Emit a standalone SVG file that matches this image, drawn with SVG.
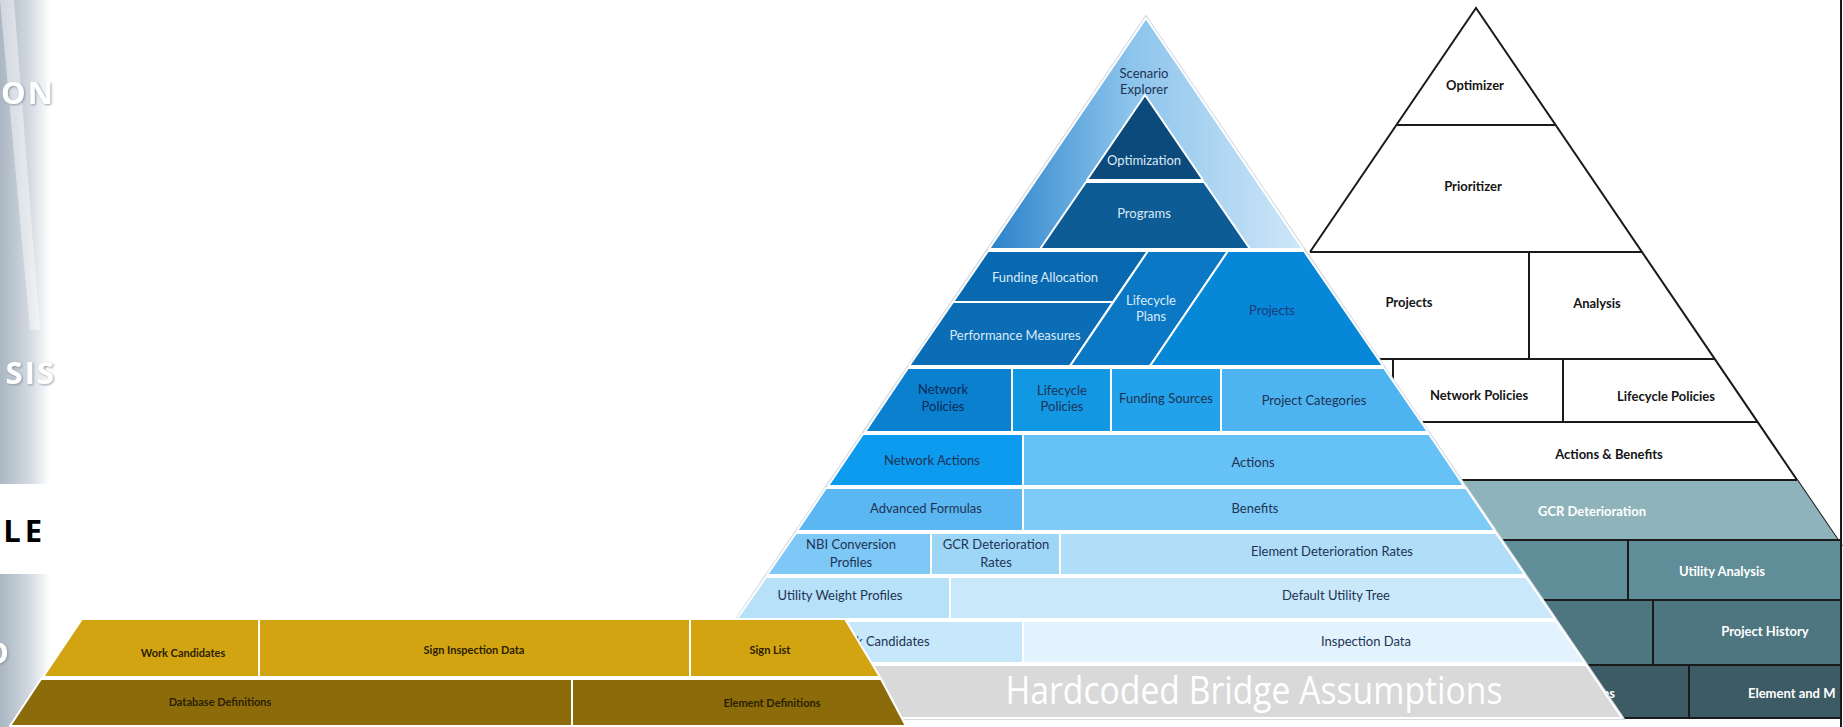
<svg xmlns="http://www.w3.org/2000/svg" width="1843" height="727" viewBox="0 0 1843 727">
<defs>
<linearGradient id="panel" x1="0" y1="0" x2="1" y2="0">
<stop offset="0" stop-color="#aab6c2"/>
<stop offset="0.6" stop-color="#d3dae1"/>
<stop offset="1" stop-color="#ffffff"/>
</linearGradient>
<linearGradient id="scen" x1="0" y1="0" x2="1" y2="0">
<stop offset="0" stop-color="#2a82ca"/>
<stop offset="0.45" stop-color="#8cc4ec"/>
<stop offset="1" stop-color="#cfe7f8"/>
</linearGradient>
<filter id="sh" x="-20%" y="-20%" width="140%" height="140%">
<feDropShadow dx="1" dy="1" stdDeviation="1.2" flood-color="#7d8894" flood-opacity="0.8"/>
</filter>
<style>
.bc{stroke:#ffffff;stroke-width:2;stroke-linejoin:round}
.t{font-family:Lato,"Liberation Sans",sans-serif;font-size:13px;text-anchor:middle}
.dk{fill:#1e3354}
.lt{fill:#dceaf7}
.wt{font-family:Lato,"Liberation Sans",sans-serif;font-size:13px;font-weight:bold;text-anchor:middle;fill:#151515}
.tt{font-family:Lato,"Liberation Sans",sans-serif;font-size:13px;font-weight:bold;text-anchor:middle;fill:#ffffff}
.gt{font-family:Lato,"Liberation Sans",sans-serif;font-size:11px;font-weight:bold;text-anchor:middle;fill:#2b2100}
.ln{stroke:#1a1a1a;stroke-width:2;fill:none}
.big{font-family:"Open Sans","DejaVu Sans",sans-serif;font-weight:bold;font-size:31px;text-anchor:end;letter-spacing:2px}
</style>
</defs>

<g id="left-panel">
<rect x="0" y="0" width="50" height="484" fill="url(#panel)"/>
<rect x="0" y="574" width="50" height="153" fill="url(#panel)"/>
<polygon points="0,0 14,0 40,330 30,330" fill="#ffffff" opacity="0.45"/>
<text class="big" x="55" y="104" fill="#ffffff" filter="url(#sh)">ON</text>
<text class="big" x="56" y="384" fill="#ffffff" filter="url(#sh)">SIS</text>
<text class="big" x="46" y="542" fill="#000000" style="letter-spacing:4px">LE</text>
<text class="big" x="11" y="664" fill="#ffffff" filter="url(#sh)">D</text>
</g>

<g id="right-pyramid">
<path class="ln" d="M1310,252 L1476,8 L1842,546" stroke-width="2.5"/>
<line class="ln" x1="1396" y1="125" x2="1556" y2="125"/>
<line class="ln" x1="1310" y1="252" x2="1642" y2="252"/>
<line class="ln" x1="1529" y1="252" x2="1529" y2="359"/>
<line class="ln" x1="1360" y1="359" x2="1715" y2="359"/>
<line class="ln" x1="1393" y1="359" x2="1393" y2="422"/>
<line class="ln" x1="1563" y1="359" x2="1563" y2="422"/>
<line class="ln" x1="1400" y1="422" x2="1757" y2="422"/>
<polygon points="1440,480 1797,480 1838,540 1440,540" fill="#8fb3bb"/>
<rect x="1470" y="540" width="372" height="60" fill="#5f8e98"/>
<rect x="1500" y="600" width="342" height="65" fill="#4d7680"/>
<rect x="1530" y="665" width="312" height="53" fill="#3d5b65"/>
<line class="ln" x1="1440" y1="480" x2="1797" y2="480"/>
<line class="ln" x1="1470" y1="540" x2="1842" y2="540"/>
<line class="ln" x1="1500" y1="600" x2="1842" y2="600"/>
<line class="ln" x1="1530" y1="665" x2="1842" y2="665"/>
<line class="ln" x1="1530" y1="718" x2="1842" y2="718"/>
<line class="ln" x1="1628" y1="540" x2="1628" y2="600"/>
<line class="ln" x1="1653" y1="600" x2="1653" y2="665"/>
<line class="ln" x1="1689" y1="665" x2="1689" y2="718"/>
<line class="ln" x1="1841" y1="0" x2="1841" y2="727"/>
<text class="wt" x="1475" y="90">Optimizer</text>
<text class="wt" x="1473" y="191">Prioritizer</text>
<text class="wt" x="1409" y="307">Projects</text>
<text class="wt" x="1597" y="308">Analysis</text>
<text class="wt" x="1479" y="400">Network Policies</text>
<text class="wt" x="1666" y="401">Lifecycle Policies</text>
<text class="wt" x="1609" y="459">Actions &amp; Benefits</text>
<text class="tt" x="1592" y="516">GCR Deterioration</text>
<text class="tt" x="1722" y="576">Utility Analysis</text>
<text class="tt" x="1765" y="636">Project History</text>
<text class="tt" x="1615" y="698" style="text-anchor:end">ns</text>
<text class="tt" x="1748" y="698" style="text-anchor:start">Element and M</text>
</g>

<g id="blue-pyramid">
<polygon points="1146,18 1622,718 670,718" fill="none" stroke="#d3dbe1" stroke-width="4"/>
<g id="scenario-explorer">
<polygon class="bc" points="1146,18 1303,249 989,249" fill="url(#scen)"/>
<text class="t dk" x="1144" y="78">Scenario</text>
<text class="t dk" x="1144" y="94">Explorer</text>
</g>
<g id="optimization">
<polygon class="bc" points="1145,95 1203,180 1087,180" fill="#0b4a7a"/>
<text class="t lt" x="1144" y="165">Optimization</text>
</g>
<g id="programs">
<polygon class="bc" points="1086,182 1204,182 1250,249 1040,249" fill="#0d5c96"/>
<text class="t lt" x="1144" y="218">Programs</text>
</g>
<g id="funding-allocation">
<polygon class="bc" points="988,251 1148,251 1113,302 953,302" fill="#0868b0"/>
<text class="t lt" x="1045" y="282">Funding Allocation</text>
</g>
<g id="performance-measures">
<polygon class="bc" points="953,302 1113,302 1070,366 909,366" fill="#0a6db6"/>
<text class="t lt" x="1015" y="340">Performance Measures</text>
</g>
<g id="lifecycle-plans">
<polygon class="bc" points="1148,251 1228,251 1150,366 1070,366" fill="#0a78c5"/>
<text class="t lt" x="1151" y="305">Lifecycle</text>
<text class="t lt" x="1151" y="321">Plans</text>
</g>
<g id="projects">
<polygon class="bc" points="1228,251 1304,251 1383,366 1150,366" fill="#0787d8"/>
<text class="t" x="1272" y="315" fill="#1a3c78">Projects</text>
</g>
<g id="network-policies">
<polygon class="bc" points="908,368 1012,368 1012,432 865,432" fill="#0a80cf"/>
<text class="t" x="943" y="394" fill="#0d2a55">Network</text>
<text class="t" x="943" y="411" fill="#0d2a55">Policies</text>
</g>
<g id="lifecycle-policies">
<rect class="bc" x="1012" y="368" width="99" height="64" fill="#1297e3"/>
<text class="t dk" x="1062" y="395">Lifecycle</text>
<text class="t dk" x="1062" y="411">Policies</text>
</g>
<g id="funding-sources">
<rect class="bc" x="1111" y="368" width="110" height="64" fill="#22a2ea"/>
<text class="t dk" x="1166" y="403">Funding Sources</text>
</g>
<g id="project-categories">
<polygon class="bc" points="1221,368 1384,368 1428,432 1221,432" fill="#4db4f1"/>
<text class="t dk" x="1314" y="405">Project Categories</text>
</g>
<g id="network-actions">
<polygon class="bc" points="863,434 1023,434 1023,486 828,486" fill="#0c9bef"/>
<text class="t dk" x="932" y="465">Network Actions</text>
</g>
<g id="actions">
<polygon class="bc" points="1023,434 1429,434 1464,486 1023,486" fill="#66c1f7"/>
<text class="t dk" x="1253" y="467">Actions</text>
</g>
<g id="advanced-formulas">
<polygon class="bc" points="826,488 1023,488 1023,531 797,531" fill="#5ab7f1"/>
<text class="t dk" x="926" y="513">Advanced Formulas</text>
</g>
<g id="benefits">
<polygon class="bc" points="1023,488 1466,488 1495,531 1023,531" fill="#7ecbf7"/>
<text class="t dk" x="1255" y="513">Benefits</text>
</g>
<g id="nbi-conversion-profiles">
<polygon class="bc" points="796,533 931,533 931,575 767,575" fill="#7dc8f6"/>
<text class="t dk" x="851" y="549">NBI Conversion</text>
<text class="t dk" x="851" y="567">Profiles</text>
</g>
<g id="gcr-deterioration-rates">
<rect class="bc" x="931" y="533" width="129" height="42" fill="#9ed6f8"/>
<text class="t dk" x="996" y="549">GCR Deterioration</text>
<text class="t dk" x="996" y="567">Rates</text>
</g>
<g id="element-deterioration-rates">
<polygon class="bc" points="1060,533 1496,533 1525,575 1060,575" fill="#b0def8"/>
<text class="t dk" x="1332" y="556">Element Deterioration Rates</text>
</g>
<g id="utility-weight-profiles">
<polygon class="bc" points="766,577 950,577 950,619 737,619" fill="#b7e0f9"/>
<text class="t dk" x="840" y="600">Utility Weight Profiles</text>
</g>
<g id="default-utility-tree">
<polygon class="bc" points="950,577 1526,577 1555,619 950,619" fill="#c9e9fb"/>
<text class="t dk" x="1336" y="600">Default Utility Tree</text>
</g>
<g id="work-candidates-blue">
<polygon class="bc" points="736,621 1023,621 1023,663 707,663" fill="#c7e7fb"/>
<text class="t dk" x="856" y="646" style="text-anchor:start">k Candidates</text>
</g>
<g id="inspection-data">
<polygon class="bc" points="1023,621 1556,621 1585,663 1023,663" fill="#e2f3fd"/>
<text class="t dk" x="1366" y="646">Inspection Data</text>
</g>
<g id="hardcoded-bridge-assumptions">
<polygon class="bc" points="706,665 1586,665 1622,718 670,718" fill="#d9d9d9"/>
<text x="1254" y="704" font-family="'Open Sans','DejaVu Sans',sans-serif" font-size="38" fill="#ffffff" text-anchor="middle" textLength="497" lengthAdjust="spacingAndGlyphs">Hardcoded Bridge Assumptions</text>
</g>
</g>

<g id="gold-pyramid">
<g id="work-candidates">
<polygon class="bc" points="82,619 259,619 259,677 43,677" fill="#d3a412"/>
<text class="gt" x="183" y="657">Work Candidates</text>
</g>
<g id="sign-inspection-data">
<rect class="bc" x="259" y="619" width="431" height="58" fill="#d3a412"/>
<text class="gt" x="474" y="654">Sign Inspection Data</text>
</g>
<g id="sign-list">
<polygon class="bc" points="690,619 845,619 880,677 690,677" fill="#d3a412"/>
<text class="gt" x="770" y="654">Sign List</text>
</g>
<g id="database-definitions">
<polygon class="bc" points="41,679 572,679 572,726 10,726" fill="#8b6b0a"/>
<text class="gt" x="220" y="706">Database Definitions</text>
</g>
<g id="element-definitions">
<polygon class="bc" points="572,679 881,679 906,726 572,726" fill="#8b6b0a"/>
<text class="gt" x="772" y="707">Element Definitions</text>
</g>
</g>
</svg>
